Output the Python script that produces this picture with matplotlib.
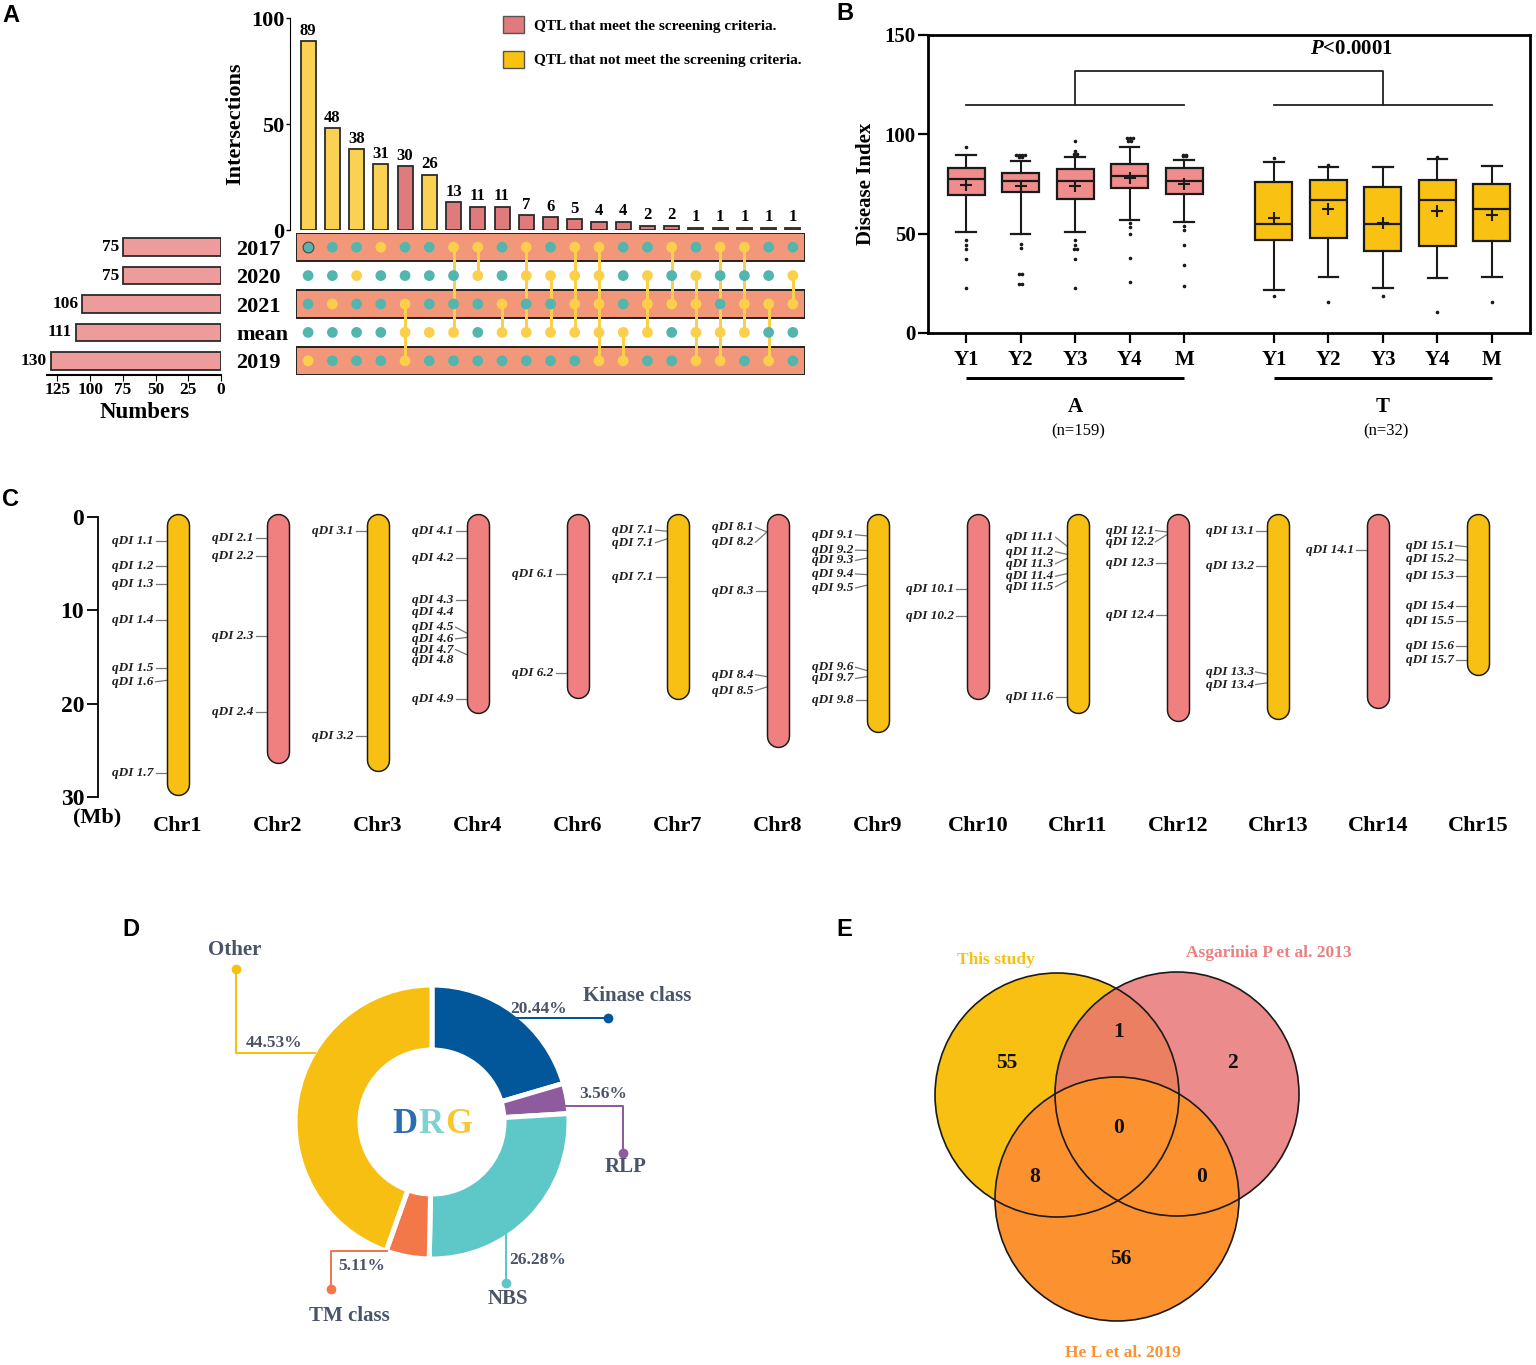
import matplotlib.pyplot as plt
import numpy as np
from matplotlib.patches import Patch, Circle
from matplotlib.transforms import blended_transform_factory

plt.rcParams['font.family'] = ['Liberation Serif', 'DejaVu Serif']
plt.rcParams['font.weight'] = 'bold'
plt.rcParams['axes.labelweight'] = 'bold'
plt.rcParams['mathtext.fontset'] = 'custom'
plt.rcParams['mathtext.it'] = 'Liberation Serif:italic:bold'
plt.rcParams['mathtext.rm'] = 'Liberation Serif:bold'

W, H = 1536, 1365
PT = 0.72  # points per pixel at dpi 100

# ---------------- A: UpSet data ----------------
set_names = ['2017', '2020', '2021', 'mean', '2019']
set_sizes = [75, 75, 106, 111, 130]
inter_counts = [89, 48, 38, 31, 30, 26, 13, 11, 11, 7, 6, 5, 4, 4, 2, 2, 1, 1, 1, 1, 1]
inter_meet = [False, False, False, False, True, False] + [True] * 15
inter_sets = [
    ['2019'], ['2021'], ['2020'], ['2017'], ['2021', 'mean', '2019'], ['mean'],
    ['2017', 'mean'], ['2017', '2020'], ['2021', 'mean'], ['2017', '2020', 'mean'],
    ['2020', 'mean'], ['2017', '2020', '2021', 'mean'],
    ['2017', '2020', '2021', 'mean', '2019'], ['mean', '2019'],
    ['2020', '2021', 'mean'], ['2017', '2021'], ['2020', '2021', 'mean', '2019'],
    ['2017', 'mean', '2019'], ['2017', '2021', 'mean'], ['2021', '2019'],
    ['2020', '2021'],
]

# ---------------- B: box plot data ----------------
years = ['Y1', 'Y2', 'Y3', 'Y4', 'M']
a_whishi = [89.7, 86.8, 88.8, 93.8, 87.2]
a_q3 = [83.3, 80.3, 82.5, 85.3, 83.2]
a_med = [77.7, 76.7, 76.7, 78.8, 76.5]
a_q1 = [69.3, 71.2, 67.2, 73.0, 69.8]
a_whislo = [50.8, 49.7, 50.8, 56.7, 56.0]
a_mean = [74.5, 74.0, 73.8, 78.0, 75.0]
a_fliers = [
    [93.8, 46.7, 44.5, 42.5, 37.2, 22.5],
    [89.6, 89.6, 89.6, 89.6, 88.8, 88.8, 45.0, 42.8, 29.7, 29.7, 24.7, 24.7],
    [96.8, 91.5, 90.3, 90.3, 46.8, 44.5, 42.3, 42.3, 37.2, 22.5],
    [98.0, 98.0, 98.0, 96.5, 96.5, 55.2, 53.3, 49.7, 37.8, 25.8],
    [89.7, 89.7, 89.0, 89.0, 53.8, 51.8, 44.3, 34.2, 23.8],
]
t_whishi = [86.3, 83.7, 83.8, 87.5, 84.3]
t_q3 = [75.8, 77.0, 73.3, 76.8, 74.8]
t_med = [54.7, 66.8, 55.0, 66.8, 62.2]
t_q1 = [46.8, 47.7, 41.5, 44.0, 46.2]
t_whislo = [21.8, 28.2, 22.7, 27.8, 28.3]
t_mean = [57.7, 62.5, 55.5, 61.3, 59.3]
t_fliers = [[88.0, 18.5], [84.7, 15.8], [18.5], [88.7, 10.8], [15.8]]

# ---------------- C: chromosome map data ----------------
chrom_names = ['Chr1', 'Chr2', 'Chr3', 'Chr4', 'Chr6', 'Chr7', 'Chr8', 'Chr9',
               'Chr10', 'Chr11', 'Chr12', 'Chr13', 'Chr14', 'Chr15']
chrom_len = [29.8, 26.4, 27.2, 21.0, 19.4, 19.5, 24.6, 23.0, 19.5, 21.0, 21.9, 21.6, 20.5, 16.9]
chrom_meet = [0, 1, 0, 1, 1, 0, 1, 0, 1, 0, 1, 0, 1, 0]
qtl_chr = ([0] * 7 + [1] * 4 + [2] * 2 + [3] * 9 + [4] * 2 + [5] * 3 + [6] * 5 + [7] * 8
           + [8] * 2 + [9] * 6 + [10] * 4 + [11] * 4 + [12] * 1 + [13] * 7)
qtl_name = (['qDI 1.%d' % k for k in range(1, 8)] + ['qDI 2.%d' % k for k in range(1, 5)]
            + ['qDI 3.1', 'qDI 3.2'] + ['qDI 4.%d' % k for k in range(1, 10)]
            + ['qDI 6.1', 'qDI 6.2'] + ['qDI 7.1'] * 3 + ['qDI 8.%d' % k for k in range(1, 6)]
            + ['qDI 9.%d' % k for k in range(1, 9)] + ['qDI 10.1', 'qDI 10.2']
            + ['qDI 11.%d' % k for k in range(1, 7)] + ['qDI 12.%d' % k for k in range(1, 5)]
            + ['qDI 13.%d' % k for k in range(1, 5)] + ['qDI 14.1']
            + ['qDI 15.%d' % k for k in range(1, 8)])
# physical position on the chromosome (nan = label shares the tick above)
qtl_pos = ([2.55, 5.28, 7.13, 11.0, 16.2, 17.5, 27.4] + [2.2, 4.2, 12.8, 20.9] + [1.45, 23.5]
           + [1.45, 4.4, 8.9, np.nan, 12.45, 12.9, 14.75, np.nan, 19.5] + [6.1, 16.7]
           + [1.52, 2.34, 6.45] + [1.6, 1.6, 7.9, 17.1, 18.2]
           + [2.02, 3.58, 4.4, 6.17, 7.3, 16.45, 17.1, 19.6] + [7.7, 10.6]
           + [3.12, 4.0, 4.43, 6.06, 6.84, 19.33] + [1.6, 1.88, 4.96, 10.5]
           + [1.45, 5.2, 16.84, 17.77] + [3.58]
           + [3.19, 4.65, 6.31, 9.54, 11.17, 13.87, 15.35])
# where the label text sits
qtl_lab = ([2.55, 5.28, 7.13, 11.0, 16.2, 17.65, 27.4] + [2.2, 4.2, 12.8, 20.9] + [1.45, 23.5]
           + [1.45, 4.4, 8.9, 10.2, 11.8, 13.05, 14.2, 15.35, 19.5] + [6.1, 16.7]
           + [1.4, 2.75, 6.45] + [1.1, 2.7, 7.9, 16.9, 18.6]
           + [1.9, 3.55, 4.65, 6.1, 7.6, 16.1, 17.3, 19.6] + [7.7, 10.6]
           + [2.16, 3.72, 5.0, 6.35, 7.48, 19.33] + [1.45, 2.66, 4.96, 10.5]
           + [1.45, 5.2, 16.6, 17.95] + [3.58]
           + [3.05, 4.55, 6.31, 9.54, 11.17, 13.87, 15.35])

# ---------------- D: donut data ----------------
drg_classes = ['Kinase class', 'RLP', 'NBS', 'TM class', 'Other']
drg_pct = [20.44, 3.56, 26.28, 5.11, 44.53]
drg_colors = ['#02579B', '#8E5B9E', '#5EC7C8', '#F27849', '#F8BF13']

# ---------------- E: Venn data ----------------
venn_sets = ['This study', 'Asgarinia P et al. 2013', 'He L et al. 2019']
venn_colors = ['#F8C012', '#EC8B8B', '#FC9130']
venn_counts = [55, 1, 2, 0, 8, 0, 56]  # This only, T&A, A only, all, T&H, A&H, H only

RED = '#E07B7D'
YEL_BAR = '#F9D153'
YEL_LEG = '#F9C20F'
PINK = '#EE9B9B'
SALMON = '#F2977A'
TEAL = '#52B6AE'
YEL_DOT = '#FBCF4A'
BOXPINK = '#F08C8C'
BOXYEL = '#F9C112'


def box(l, t, r, b):
    return [l / W, 1 - b / H, (r - l) / W, (b - t) / H]


fig = plt.figure(figsize=(W / 100, H / 100), dpi=100)

# ================= Panel A =================
axA = fig.add_axes(box(290, 18, 805, 230))
cols = np.arange(len(inter_counts))
axA.bar(cols, inter_counts, width=0.62, color=[RED if m else YEL_BAR for m in inter_meet],
        edgecolor='#2b2b2b', linewidth=1.3)
for c, v in zip(cols, inter_counts):
    axA.text(c, v + 1.2, str(v), ha='center', va='bottom', fontsize=12)
axA.set_xlim(-0.75, 20.5)
axA.set_ylim(0, 100)
axA.set_xticks([])
axA.set_yticks([0, 50, 100])
axA.tick_params(axis='y', labelsize=16, length=3, width=1, pad=1)
for s in ['top', 'right', 'bottom']:
    axA.spines[s].set_visible(False)
axA.set_ylabel('Intersections', fontsize=16, labelpad=4)
handles = [Patch(facecolor=RED, edgecolor='#555'), Patch(facecolor=YEL_LEG, edgecolor='#555')]
axA.legend(handles, ['QTL that meet the screening criteria.',
                     'QTL that not meet the screening criteria.'],
           loc='upper left', bbox_to_anchor=(503 / W, 1 - 16 / H), bbox_transform=fig.transFigure,
           frameon=False, fontsize=11, handlelength=1.35, handleheight=1.35,
           handletextpad=0.7, labelspacing=1.15, borderpad=0, borderaxespad=0)

axM = fig.add_axes(box(296, 233, 805, 375))
axM.set_xlim(-0.5, 20.5)
axM.set_ylim(4.5, -0.5)
for r in (0, 2, 4):
    axM.axhspan(r - 0.49, r + 0.49, facecolor=SALMON, edgecolor='#222', lw=1.4, zorder=0)
for c, members in enumerate(inter_sets):
    rows = [set_names.index(m) for m in members]
    if len(rows) > 1:
        axM.plot([c, c], [min(rows), max(rows)], color=YEL_DOT, lw=3 * PT, zorder=2)
    for r in range(len(set_names)):
        ec = '#444' if (c == 0 and r == 0) else 'none'
        axM.scatter(c, r, s=60, color=YEL_DOT if r in rows else TEAL,
                    edgecolors=ec, linewidths=0.8, zorder=3)
axM.set_xticks([])
axM.set_yticks(range(len(set_names)))
axM.set_yticklabels(set_names, fontsize=16)
axM.tick_params(axis='y', length=0, pad=60 * PT)
for lab in axM.get_yticklabels():
    lab.set_ha('left')
for s in axM.spines.values():
    s.set_visible(False)

axS = fig.add_axes(box(47, 233, 221, 375))
axS.barh(range(len(set_sizes)), set_sizes, height=0.62, color=PINK, edgecolor='#2b2b2b', lw=1.3)
axS.set_xlim(133, 0)
axS.set_ylim(4.5, -0.5)
for r, v in enumerate(set_sizes):
    axS.text(v + 3, r, str(v), ha='right', va='center', fontsize=12.5)
axS.set_yticks([])
axS.set_xticks([125, 100, 75, 50, 25, 0])
axS.tick_params(axis='x', labelsize=12.5, length=4, pad=1)
for s in ['top', 'left', 'right']:
    axS.spines[s].set_visible(False)
axS.spines['bottom'].set_linewidth(1.5)
axS.set_xlabel('Numbers', fontsize=16.5)
axS.xaxis.set_label_coords(0.563, -0.19)

# ================= Panel B =================
axB = fig.add_axes(box(928, 35, 1530, 333))
posA = np.arange(1, 6)
posT = posA + 5.65


def make_stats(whislo, q1, med, q3, whishi, mean):
    return [dict(whislo=a, q1=b, med=c, q3=d, whishi=e, mean=f, fliers=[])
            for a, b, c, d, e, f in zip(whislo, q1, med, q3, whishi, mean)]


for stats, pos, fc, fl in [
        (make_stats(a_whislo, a_q1, a_med, a_q3, a_whishi, a_mean), posA, BOXPINK, a_fliers),
        (make_stats(t_whislo, t_q1, t_med, t_q3, t_whishi, t_mean), posT, BOXYEL, t_fliers)]:
    axB.bxp(stats, positions=pos, widths=0.68, capwidths=0.36, patch_artist=True,
            showmeans=True, showfliers=False, manage_ticks=False,
            boxprops=dict(facecolor=fc, edgecolor='#1a1a1a', linewidth=1.6),
            whiskerprops=dict(color='#1a1a1a', linewidth=1.5),
            capprops=dict(color='#1a1a1a', linewidth=1.6),
            medianprops=dict(color='#1a1a1a', linewidth=1.6),
            meanprops=dict(marker='+', markeredgecolor='#1a1a1a', markersize=8,
                           markeredgewidth=1.5))
    for x0, vals in zip(pos, fl):
        uniq, counts = np.unique(vals, return_counts=True)
        for v, n in zip(uniq, counts):
            xs = x0 + (np.arange(n) - (n - 1) / 2) * 0.055
            axB.plot(xs, [v] * n, 'o', color='#1a1a1a', markersize=1.6, lw=0)

axB.set_xlim(0.3, 11.35)
axB.set_ylim(0, 150)
axB.set_yticks([0, 50, 100, 150])
axB.set_xticks(np.concatenate([posA, posT]))
axB.set_xticklabels(years + years)
axB.tick_params(axis='both', labelsize=15, length=7, width=1.6, direction='out')
axB.tick_params(axis='x', pad=5)
axB.tick_params(axis='y', pad=2)
for s in axB.spines.values():
    s.set_linewidth(2)
axB.set_ylabel('Disease Index', fontsize=15, labelpad=6)

# significance bracket
br_low, br_high = 114.7, 132
for p in (posA, posT):
    axB.plot([p[0], p[-1]], [br_low, br_low], color='#222', lw=1.3)
axB.plot([posA.mean(), posA.mean(), posT.mean(), posT.mean()],
         [br_low, br_high, br_high, br_low], color='#222', lw=1.3)
axB.text(8.08, 143, '$P$<0.0001', ha='center', va='center', fontsize=15)

trB = blended_transform_factory(axB.transData, axB.transAxes)
for p, g, n in [(posA, 'A', '(n=159)'), (posT, 'T', '(n=32)')]:
    axB.plot([p[0], p[-1]], [-0.151, -0.151], transform=trB, clip_on=False, color='black',
             lw=3 * PT, solid_capstyle='butt')
    axB.text(p.mean(), -0.248, g, transform=trB, ha='center', va='center', fontsize=15)
    axB.text(p.mean() + 0.05, -0.33, n, transform=trB, ha='center', va='center', fontsize=12,
             fontweight='normal')

# ================= Panel C =================
axC = fig.add_axes(box(98, 505, 1530, 797))
axC.set_xlim(-0.8, 13.52)
axC.set_ylim(30, -1.29)
ax_h_px = 797 - 505
mb_per_px = 31.29 / ax_h_px
cap = 11 * mb_per_px
for i, (L, meet) in enumerate(zip(chrom_len, chrom_meet)):
    fc = '#F08080' if meet else '#F8C012'
    axC.plot([i, i], [cap - 0.3, L - cap], color='#1a1a1a', lw=23.5 * PT,
             solid_capstyle='round', zorder=2, clip_on=False)
    axC.plot([i, i], [cap - 0.3, L - cap], color=fc, lw=20.5 * PT,
             solid_capstyle='round', zorder=3, clip_on=False)
for ci, name, pos, lab in zip(qtl_chr, qtl_name, qtl_pos, qtl_lab):
    axC.text(ci - 0.245, lab, name, ha='right', va='center', fontsize=9.5, style='italic',
             color='#1f1f1f')
    if not np.isnan(pos):
        axC.plot([ci - 0.225, ci - 0.11], [lab, pos], color='#777', lw=0.9, zorder=1)
axC.set_xticks(range(len(chrom_names)))
axC.set_xticklabels(chrom_names, fontsize=16)
axC.tick_params(axis='x', length=0, pad=14)
axC.set_yticks([0, 10, 20, 30])
axC.tick_params(axis='y', labelsize=17, length=8, width=1.3, pad=2)
for s in ['top', 'right', 'bottom']:
    axC.spines[s].set_visible(False)
axC.spines['left'].set_bounds(0, 30)
axC.spines['left'].set_linewidth(1.3)
axC.text(-0.81, 32.15, '(Mb)', ha='center', va='center', fontsize=16, clip_on=False)

# ================= Panel D =================
axD = fig.add_axes(box(140, 925, 760, 1345))
axD.pie(drg_pct, radius=137, startangle=90, counterclock=False, colors=drg_colors,
        wedgeprops=dict(width=65, edgecolor='white', linewidth=5 * PT))
axD.set_xlim(-292, 328)
axD.set_ylim(-223, 197)
axD.set_aspect('equal')
axD.axis('off')
# callout layout: line path, label position, percentage position
callouts = {
    'Kinase class': ([(78, 104), (176, 104)], (205, 126), (107, 113)),
    'RLP': ([(133, 16), (191, 16), (191, -31)], (194, -45), (171, 28)),
    'NBS': ([(74, -111), (74, -161)], (76, -177), (106, -138)),
    'TM class': ([(-45, -129), (-101, -129), (-101, -167)], (-83, -194), (-70, -144)),
    'Other': ([(-117, 69), (-196, 69), (-196, 153)], (-197, 172), (-158, 79)),
}
for name, pct, col in zip(drg_classes, drg_pct, drg_colors):
    path, lab_xy, pct_xy = callouts[name]
    xs, ys = zip(*path)
    axD.plot(xs, ys, color=col, lw=2 * PT, zorder=1)
    axD.plot(xs[-1], ys[-1], 'o', color=col, markersize=6)
    axD.text(*lab_xy, name, ha='center', va='center', fontsize=15, color='#4A5469')
    axD.text(*pct_xy, '%.2f%%' % pct, ha='center', va='center', fontsize=12.5, color='#4A5469')
for letter, dx, col in [('D', -27, '#2C6DAF'), ('R', -1, '#7DD3D3'), ('G', 27, '#F8C730')]:
    axD.text(dx, -11, letter, ha='center', va='baseline', fontsize=25, color=col)

# ================= Panel E =================
axE = fig.add_axes(box(880, 930, 1400, 1365))
axE.set_xlim(880, 1400)
axE.set_ylim(1365, 930)
axE.set_aspect('equal')
axE.axis('off')
centers = [(1057, 1095), (1177, 1094), (1117, 1199)]
rad = 122
c1 = Circle(centers[0], rad, facecolor=venn_colors[0], edgecolor='none')
c2 = Circle(centers[1], rad, facecolor=venn_colors[1], edgecolor='none')
axE.add_patch(c1)
axE.add_patch(c2)
c12 = Circle(centers[1], rad, facecolor='#EB7F62', edgecolor='none')
axE.add_patch(c12)
c12.set_clip_path(c1)
axE.add_patch(Circle(centers[2], rad, facecolor=venn_colors[2], edgecolor='none'))
for c in centers:
    axE.add_patch(Circle(c, rad, fill=False, edgecolor='#1a1a1a', lw=1.2))
region_xy = [(1007, 1063), (1119, 1032), (1232, 1063), (1119, 1128), (1035, 1177),
             (1202, 1177), (1121, 1259)]
for (x, y), v in zip(region_xy, venn_counts):
    axE.text(x, y, str(v), ha='center', va='center', fontsize=15.5, color='#111')
for (x, y), name, col in zip([(996, 960), (1269, 953), (1123, 1353)], venn_sets,
                             ['#F8C012', '#EC8080', '#FC9130']):
    axE.text(x, y, name, ha='center', va='center', fontsize=12.5, color=col)

# panel letters
for letter, x, y in [('A', 2, 15), ('B', 836, 14), ('C', 2, 499), ('D', 122, 929), ('E', 836, 929)]:
    fig.text(x / W, 1 - y / H, letter, ha='left', va='center', fontsize=17,
             family='Liberation Sans', fontweight='bold')

fig.savefig('out.png', dpi=100)
